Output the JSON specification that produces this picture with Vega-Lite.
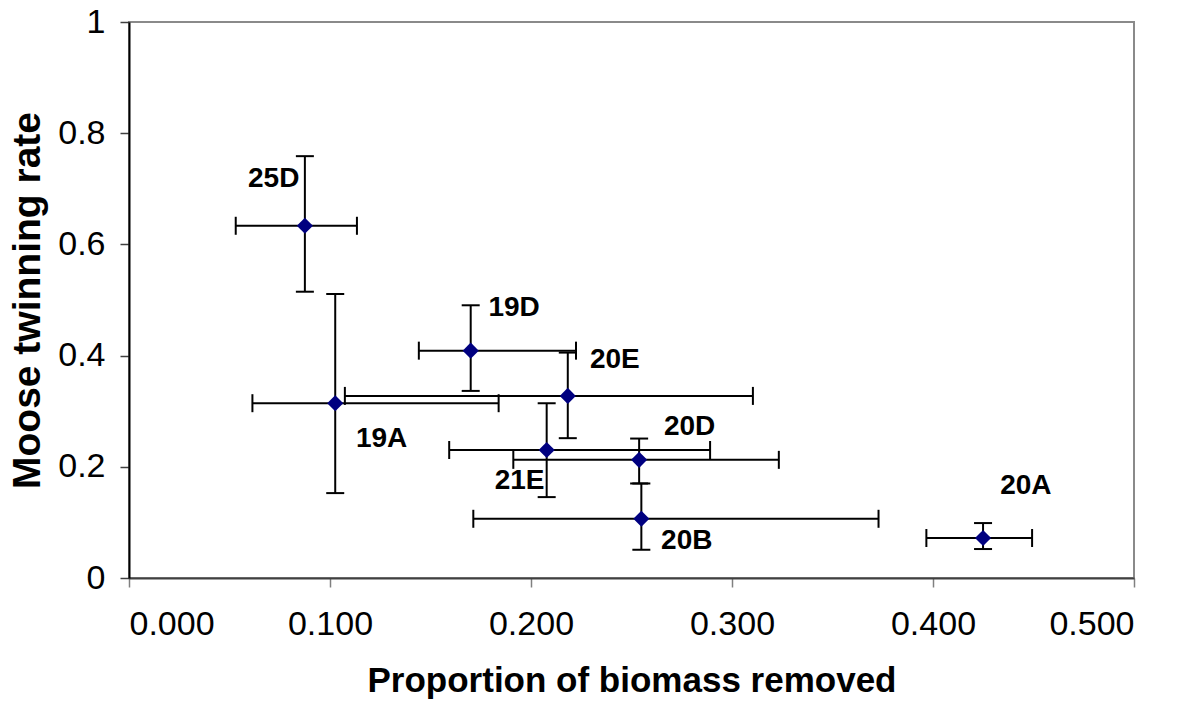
{
  "$schema": "https://vega.github.io/schema/vega-lite/v6.json",
  "autosize": {"type": "none"},
  "padding": {"left": 129, "top": 22, "right": 52, "bottom": 127},
  "width": 1005,
  "height": 556,
  "background": "white",
  "config": {
    "view": {"stroke": "#8a8a8a", "strokeWidth": 2},
    "axis": {
      "grid": false,
      "labelFont": "Liberation Sans",
      "labelFontSize": 34,
      "labelColor": "#000000",
      "titleFont": "Liberation Sans",
      "titleFontSize": 35,
      "titleFontWeight": "bold",
      "titleColor": "#000000",
      "tickSize": 9,
      "tickWidth": 1.5
    }
  },
  "data": {
    "values": [
      {"unit": "25D", "x": 0.0875, "y": 0.6335, "xlo": 0.0531, "xhi": 0.1134, "ylo": 0.5149, "yhi": 0.7587, "lx": 0.0720, "ly": 0.7174},
      {"unit": "19A", "x": 0.1026, "y": 0.3144, "xlo": 0.0614, "xhi": 0.1839, "ylo": 0.1527, "yhi": 0.5108, "lx": 0.1257, "ly": 0.2499},
      {"unit": "19D", "x": 0.1700, "y": 0.4089, "xlo": 0.1442, "xhi": 0.2224, "ylo": 0.3365, "yhi": 0.4905, "lx": 0.1916, "ly": 0.4855},
      {"unit": "20E", "x": 0.2183, "y": 0.3275, "xlo": 0.1074, "xhi": 0.3104, "ylo": 0.2515, "yhi": 0.4054, "lx": 0.2417, "ly": 0.3922},
      {"unit": "21E", "x": 0.2078, "y": 0.2302, "xlo": 0.1593, "xhi": 0.2891, "ylo": 0.1455, "yhi": 0.3143, "lx": 0.1943, "ly": 0.1736},
      {"unit": "20D", "x": 0.2538, "y": 0.2125, "xlo": 0.1912, "xhi": 0.3233, "ylo": 0.1700, "yhi": 0.2508, "lx": 0.2789, "ly": 0.2718},
      {"unit": "20B", "x": 0.2549, "y": 0.1065, "xlo": 0.1713, "xhi": 0.3729, "ylo": 0.0508, "yhi": 0.1700, "lx": 0.2775, "ly": 0.0674},
      {"unit": "20A", "x": 0.4249, "y": 0.0719, "xlo": 0.3967, "xhi": 0.4493, "ylo": 0.0521, "yhi": 0.0988, "lx": 0.4462, "ly": 0.1662}
    ]
  },
  "encoding": {
    "x": {
      "field": "x", "type": "quantitative",
      "scale": {"domain": [0, 0.5], "nice": false, "zero": false},
      "axis": {
        "title": "Proportion of biomass removed",
        "values": [0, 0.1, 0.2, 0.3, 0.4, 0.5],
        "format": ".3f",
        "labelPadding": 20,
        "titlePadding": 22,
        "domainColor": "#404040",
        "domainWidth": 2,
        "tickColor": "#808080"
      }
    },
    "y": {
      "field": "y", "type": "quantitative",
      "scale": {"domain": [0, 1], "nice": false, "zero": false},
      "axis": {
        "title": "Moose twinning rate",
        "titleFontSize": 39,
        "values": [0, 0.2, 0.4, 0.6, 0.8, 1],
        "format": "~g",
        "labelPadding": 15,
        "titlePadding": 10,
        "domainColor": "#000000",
        "domainWidth": 2,
        "tickColor": "#404040"
      }
    }
  },
  "layer": [
    {
      "mark": {"type": "rule", "color": "#000000", "strokeWidth": 2},
      "encoding": {"y": {"field": "ylo", "type": "quantitative"}, "y2": {"field": "yhi"}}
    },
    {
      "mark": {"type": "rule", "color": "#000000", "strokeWidth": 2},
      "encoding": {"x": {"field": "xlo", "type": "quantitative"}, "x2": {"field": "xhi"}}
    },
    {
      "mark": {"type": "tick", "orient": "horizontal", "size": 18, "thickness": 2, "color": "#000000", "opacity": 1},
      "encoding": {"y": {"field": "ylo", "type": "quantitative"}}
    },
    {
      "mark": {"type": "tick", "orient": "horizontal", "size": 18, "thickness": 2, "color": "#000000", "opacity": 1},
      "encoding": {"y": {"field": "yhi", "type": "quantitative"}}
    },
    {
      "mark": {"type": "tick", "orient": "vertical", "size": 18, "thickness": 2, "color": "#000000", "opacity": 1},
      "encoding": {"x": {"field": "xlo", "type": "quantitative"}}
    },
    {
      "mark": {"type": "tick", "orient": "vertical", "size": 18, "thickness": 2, "color": "#000000", "opacity": 1},
      "encoding": {"x": {"field": "xhi", "type": "quantitative"}}
    },
    {
      "mark": {"type": "point", "shape": "diamond", "size": 260, "filled": true, "color": "#000080", "opacity": 1, "strokeWidth": 0}
    },
    {
      "mark": {"type": "text", "font": "Liberation Sans", "fontSize": 28, "fontWeight": "bold", "color": "#000000", "align": "center", "baseline": "middle"},
      "encoding": {
        "x": {"field": "lx", "type": "quantitative"},
        "y": {"field": "ly", "type": "quantitative"},
        "text": {"field": "unit"}
      }
    }
  ]
}
